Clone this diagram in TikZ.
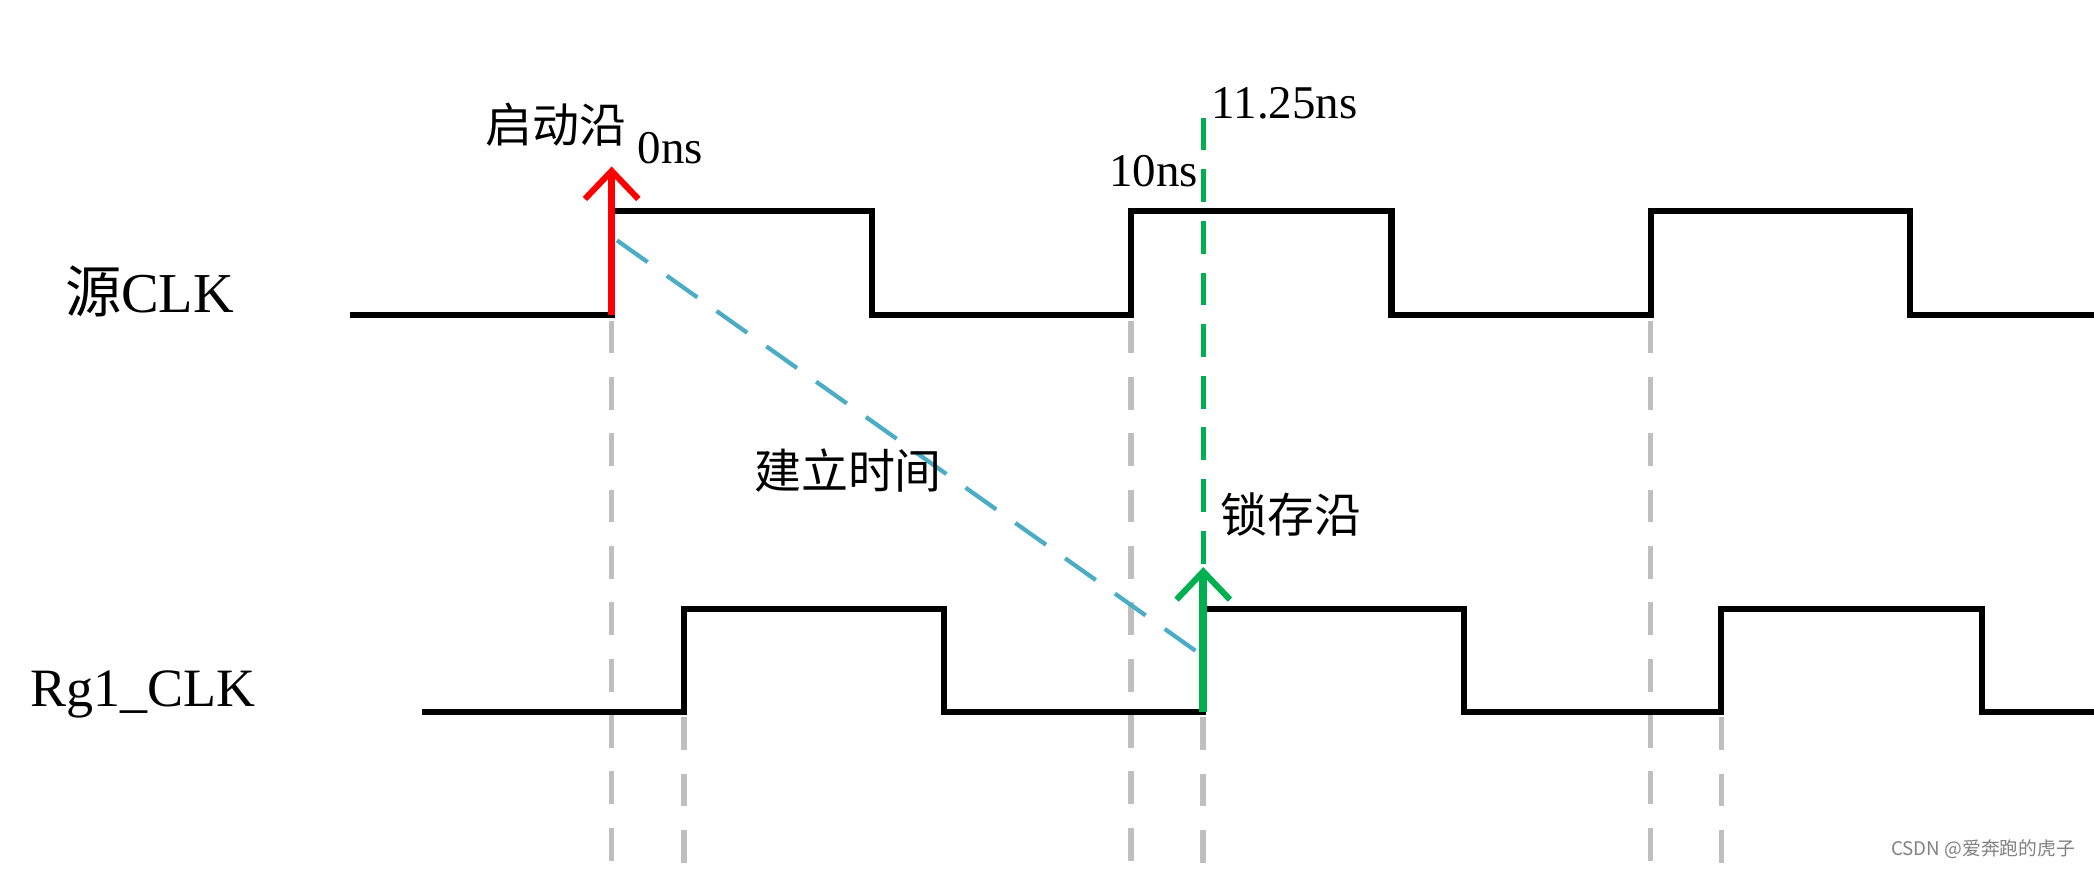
\documentclass[tikz,border=0pt]{standalone}
\usepackage{fontspec}
\setmainfont{Noto Sans CJK SC}
\newfontfamily\latinf{Liberation Serif}
\definecolor{setupc}{HTML}{4BACC6}
\definecolor{grn}{HTML}{00B050}
\begin{document}
\begin{tikzpicture}[x=0.01cm,y=-0.01cm,
  sig/.style={line width=1.3pt,black},
  guide/.style={line width=1.2pt,gray!50,dash pattern=on 7pt off 5pt},
  lbl/.style={inner sep=0pt,font=\fontsize{10}{12}\selectfont},
  arrowtip/.style={line width=1.3pt}]
\useasboundingbox (0,0) rectangle (1568,651);
% guides
\coordinate (g1a) at (458,240); \coordinate (g1b) at (458,651);
\coordinate (g2a) at (512,537); \coordinate (g2b) at (512,651);
\coordinate (g3a) at (847,240); \coordinate (g3b) at (847,651);
\coordinate (g4a) at (901,537); \coordinate (g4b) at (901,651);
\coordinate (g5a) at (1236,240); \coordinate (g5b) at (1236,651);
\coordinate (g6a) at (1289,537); \coordinate (g6b) at (1289,651);
\foreach \i in {1,...,6} \draw[guide] (g\i a) -- (g\i b);
% source clock
\draw[sig] (262,236) -- (458,236) -- (458,158) -- (653,158) -- (653,236) -- (847,236) -- (847,158) -- (1042,158) -- (1042,236) -- (1236,236) -- (1236,158) -- (1430,158) -- (1430,236) -- (1568,236);
% rg1 clock
\draw[sig] (316,533) -- (512,533) -- (512,456) -- (707,456) -- (707,533) -- (901,533) -- (901,456) -- (1096,456) -- (1096,533) -- (1289,533) -- (1289,456) -- (1484,456) -- (1484,533) -- (1568,533);
% setup line
\coordinate (s1) at (462,180); \coordinate (s2) at (899,490);
\draw[line width=0.9pt,setupc,dash pattern=on 8pt off 5pt] (s1) -- (s2);
% green dashed
\coordinate (gd1) at (901,88); \coordinate (gd2) at (901,428);
\draw[line width=1pt,grn,dash pattern=on 7pt off 4pt] (gd1) -- (gd2);
% red arrow
\coordinate (ra) at (458,236); \coordinate (rb) at (458,128);
\draw[red,line width=1.6pt] (ra) -- (rb);
\draw[red,arrowtip] (438,149) -- (rb) -- (478,149);
% green arrow
\coordinate (ga) at (901,533); \coordinate (gb) at (901,428);
\draw[grn,line width=1.6pt] (ga) -- (gb);
\draw[grn,arrowtip] (881,449) -- (gb) -- (921,449);
% labels
\node[lbl,font=\fontsize{12}{14}\selectfont] (src) at (112,218) {源\latinf CLK};
\node[lbl,font=\fontsize{11.5}{14}\selectfont\latinf] (rg) at (107,520) {Rg1\_CLK};
\node[lbl] (qd) at (416,93) {启动沿};
\node[lbl,font=\fontsize{10}{12}\selectfont\latinf] (t0) at (502,111) {0ns};
\node[lbl,font=\fontsize{10}{12}\selectfont\latinf] (t10) at (864,128) {10ns};
\node[lbl,font=\fontsize{10}{12}\selectfont\latinf] (t11) at (962,77) {11.25ns};
\node[lbl] (jl) at (635,352) {建立时间};
\node[lbl] (sc) at (967,385) {锁存沿};
\node[lbl,font=\fontsize{4}{5}\selectfont,gray] (wm) at (1485,636) {CSDN @爱奔跑的虎子};
\end{tikzpicture}
\end{document}
